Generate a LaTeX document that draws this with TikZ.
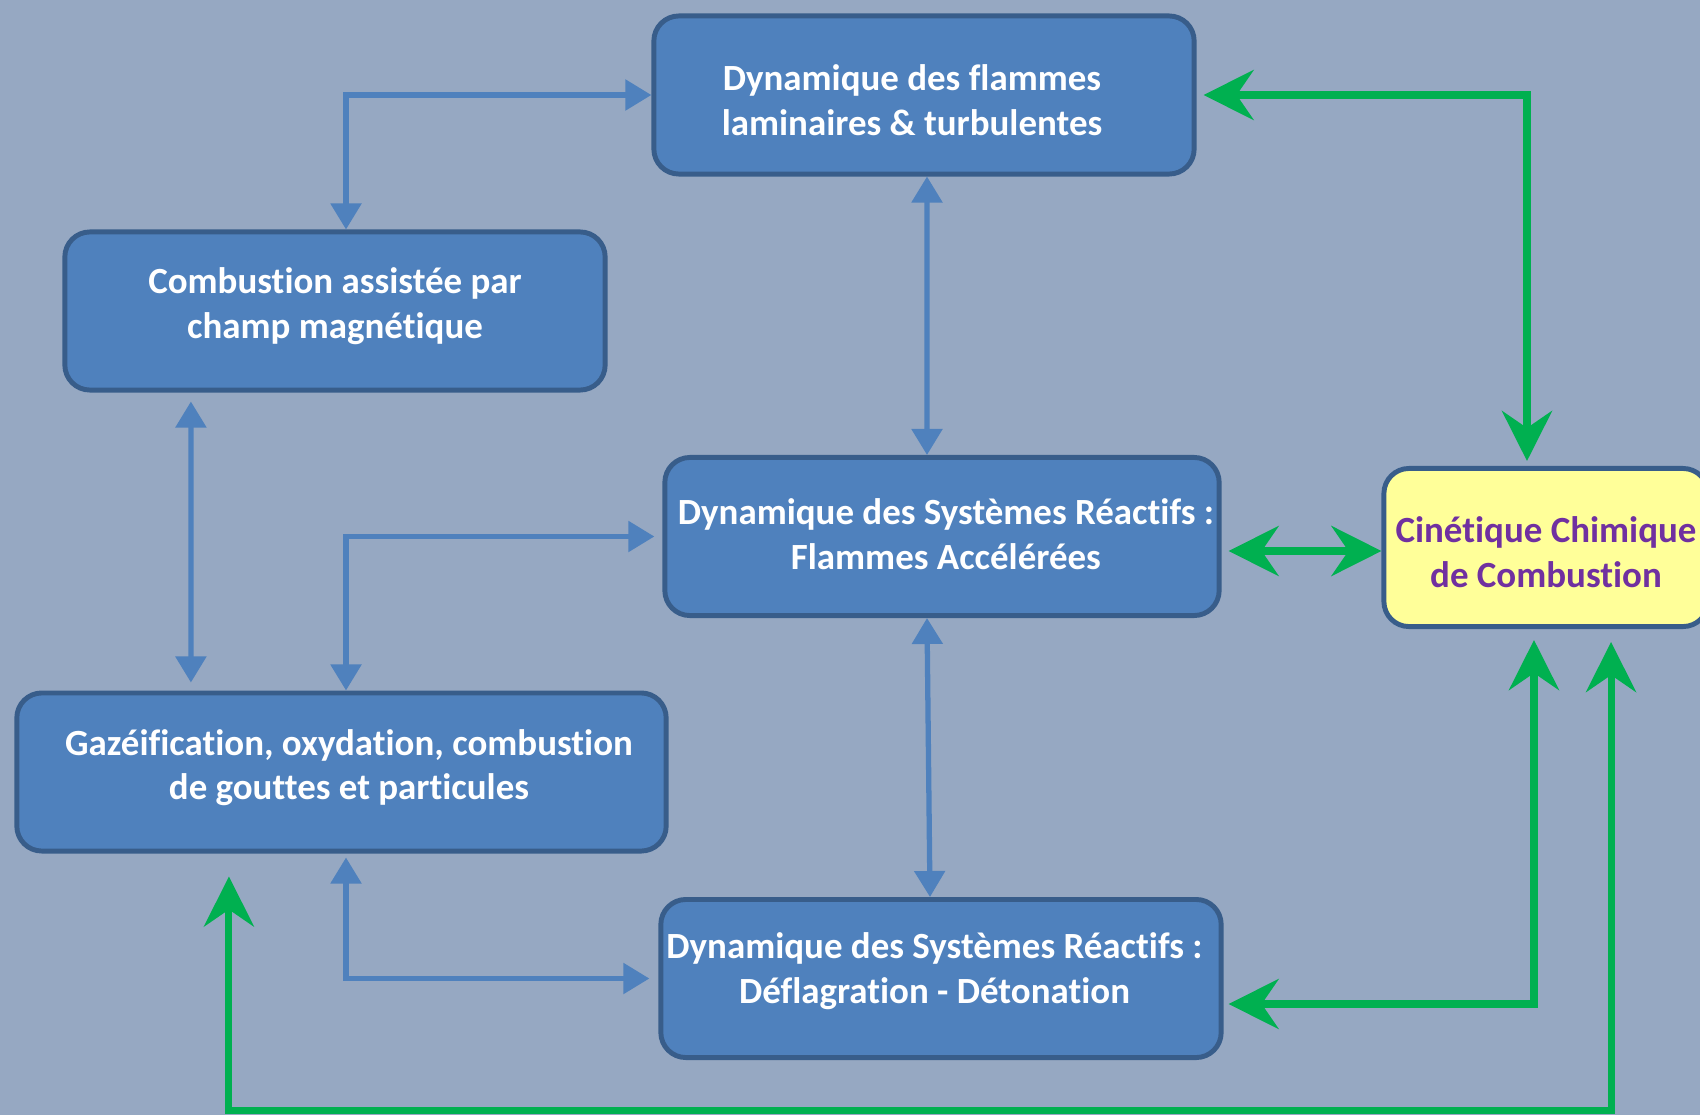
\documentclass[tikz,border=0pt]{standalone}
\usepackage{fontspec}
\setmainfont{Carlito}[Ligatures=CommonOff]
\usepackage{tikz}
\usetikzlibrary{arrows.meta}

\definecolor{fond}{RGB}{150,168,194}
\definecolor{fondbleu}{RGB}{79,129,189}
\definecolor{bordbleu}{RGB}{56,93,138}
\definecolor{vert}{RGB}{0,176,80}
\definecolor{jaune}{RGB}{255,255,153}
\definecolor{violet}{RGB}{112,48,160}

\begin{document}
\begin{tikzpicture}[x=0.01cm, y=-0.01cm,
	boite/.style={draw=bordbleu, line width=1.4pt, fill=fondbleu, rounded corners=0.25cm, inner sep=0pt, minimum height=1.58cm},
	texte/.style={text=white, align=center, inner sep=0pt, font=\bfseries\fontsize{10.5}{12.7}\selectfont},
	lienbleu/.style={draw=fondbleu, line width=1.5pt, {Triangle[length=0.26cm,width=0.3cm]}-{Triangle[length=0.26cm,width=0.3cm]}},
	lienvert/.style={draw=vert, line width=2pt, {Stealth[length=0.5cm,width=0.5cm,inset=0.17cm]}-{Stealth[length=0.5cm,width=0.5cm,inset=0.17cm]}}]
				\fill[fond] (0,0) rectangle (1700,1115);
				\useasboundingbox (0,0) rectangle (1700,1115);

				\node[boite, minimum width=5.4cm] (flam) at (924,95) {};
				\node[boite, minimum width=5.4cm] (magn) at (335,311) {};
				\node[boite, minimum width=5.54cm] (accel) at (942,536.5) {};
				\node[boite, minimum width=3.24cm, fill=jaune] (cin) at (1546,547.5) {};
				\node[boite, minimum width=6.49cm] (gaz) at (341.5,772) {};
				\node[boite, minimum width=5.6cm] (deto) at (941,978.5) {};

				\node[texte] (flamtxt) at ([xshift=-0.12cm,yshift=-0.055cm]flam) {Dynamique des flammes\\laminaires \& turbulentes};
				\node[texte] (magntxt) at ([yshift=0.045cm]magn) {Combustion assistée par\\champ magnétique};
				\node[texte] (acceltxt) at ([xshift=0.04cm,yshift=0.02cm]accel) {Dynamique des Systèmes Réactifs :\\Flammes Accélérées};
				\node[texte, text=violet] (cintxt) at ([yshift=-0.045cm]cin) {Cinétique Chimique\\de Combustion};
				\node[texte] (gaztxt) at ([xshift=0.075cm,yshift=0.045cm]gaz) {Gazéification, oxydation, combustion\\de gouttes et particules};
				\node[texte] (detotxt) at ([xshift=-0.065cm,yshift=0.075cm]deto) {Dynamique des Systèmes Réactifs :\\Déflagration - Détonation};

				\draw[lienbleu] (flam.west) -| ([xshift=0.11cm]magn.north);
				\draw[lienbleu] ([xshift=0.03cm]flam.south) -- ([xshift=-0.15cm]accel.north);
				\draw[lienbleu] ([xshift=-1.44cm,yshift=-0.09cm]magn.south) -- ([xshift=-1.505cm,yshift=0.08cm]gaz.north);
				\draw[lienbleu] ([xshift=-0.08cm]accel.west) -| ([xshift=0.045cm]gaz.north);
				\draw[lienbleu] ([xshift=-0.15cm]accel.south) -- ([xshift=-0.11cm]deto.north);
				\draw[lienbleu] ([xshift=0.045cm,yshift=-0.04cm]gaz.south) |- ([xshift=-0.09cm]deto.west);

				\draw[lienvert] ([xshift=0.07cm]flam.east) -| ([xshift=-0.19cm,yshift=0.05cm]cin.north);
				\draw[lienvert] ([xshift=0.07cm]accel.east |- 0,551) -- (cin.west |- 0,551);
				\draw[lienvert] ([xshift=-0.12cm,yshift=-0.11cm]cin.south) |- ([xshift=0.05cm]deto.east |- 0,1004);
				\draw[lienvert] ([xshift=0.65cm,yshift=-0.13cm]cin.south) -- ++(0,468) -| ([xshift=-1.125cm,yshift=-0.23cm]gaz.south);
			\end{tikzpicture}
\end{document}
